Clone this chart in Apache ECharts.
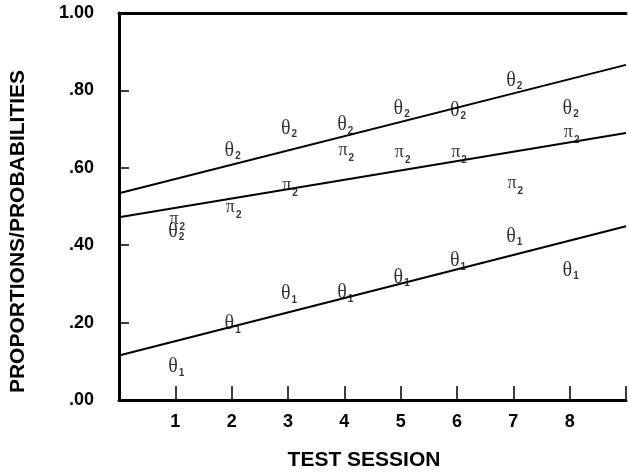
<!DOCTYPE html>
<html>
<head>
<meta charset="utf-8">
<script src="https://cdn.jsdelivr.net/npm/echarts@6/dist/echarts.min.js"></script>
<style>html,body{margin:0;padding:0;background:#fff;}#c{width:629px;height:476px;}</style>
</head>
<body>
<div id="c"></div>
<script>
// Test sessions
const sessions = [1, 2, 3, 4, 5, 6, 7, 8];
// Observed proportions (plotted as letter symbols)
const theta2 = [0.436, 0.645, 0.702, 0.710, 0.753, 0.748, 0.826, 0.753];
const pi2    = [0.468, 0.498, 0.555, 0.645, 0.640, 0.640, 0.560, 0.692];
const theta1 = [0.085, 0.196, 0.274, 0.276, 0.317, 0.359, 0.423, 0.335];
// Fitted lines: [session, value] at the ends of the axis
const theta2Fit = [[0, 0.534], [9, 0.866]];
const pi2Fit    = [[0, 0.472], [9, 0.690]];
const theta1Fit = [[0, 0.115], [9, 0.449]];
// Tick labels
const yTicks = [0, 0.2, 0.4, 0.6, 0.8, 1.0];

const chart = echarts.init(document.getElementById('c'), null, {renderer: 'canvas'});

function symSeries(name, vals, sym, sub, symSize, subPad, offX) {
  return {
    type: 'scatter', name: name,
    data: sessions.map((s, i) => [s, vals[i]]),
    symbolSize: 1, itemStyle: {color: 'rgba(0,0,0,0)'},
    z: 5,
    label: {
      show: true, position: 'inside', offset: [offX, 0],
      formatter: '{t|' + sym + '}{s|' + sub + '}',
      rich: {
        t: {fontFamily: 'Liberation Serif', fontSize: symSize, color: '#000', lineHeight: symSize, verticalAlign: 'top'},
        s: {fontFamily: 'Liberation Sans', fontWeight: 'bold', fontSize: 10, color: '#000', lineHeight: 10, verticalAlign: 'top', padding: [subPad, 0, 0, 1]}
      }
    }
  };
}
function lineSeries(name, d) {
  return {
    type: 'line', name: name, data: d, symbol: 'none', z: 3,
    lineStyle: {color: '#000', width: 2}, silent: true
  };
}

const labelFont = {fontFamily: 'Liberation Sans', fontWeight: 'bold', fontSize: 18, color: '#000'};

chart.setOption({
  animation: false,
  backgroundColor: '#fff',
  grid: {left: 119, right: 0, top: 13, bottom: 76, containLabel: false},
  xAxis: [{
    type: 'value', min: 0, max: 9, interval: 1,
    axisLine: {show: true, lineStyle: {color: '#000', width: 3}},
    axisTick: {show: true, inside: true, length: 14, lineStyle: {color: '#000', width: 1.5}},
    splitLine: {show: false},
    axisLabel: Object.assign({margin: 13, formatter: v => (v >= 1 && v <= 8) ? String(v) : ''}, labelFont)
  }, {
    type: 'value', min: 0, max: 9, position: 'top',
    axisLine: {show: true, onZero: false, lineStyle: {color: '#000', width: 3}},
    axisTick: {show: false}, axisLabel: {show: false}, splitLine: {show: false}
  }],
  yAxis: {
    type: 'value', min: 0, max: 1, interval: 0.2,
    axisLine: {show: true, lineStyle: {color: '#000', width: 3}},
    axisTick: {show: true, inside: true, length: 10, lineStyle: {color: '#000', width: 1.5}},
    splitLine: {show: false},
    axisLabel: Object.assign({margin: 25, padding: [4, 0, 0, 0], formatter: v => {
      const s = v.toFixed(2); return s.startsWith('0') ? s.slice(1) : s;
    }}, labelFont)
  },
  graphic: [
    {type: 'text', x: 364, y: 460, style: {text: 'TEST SESSION', x: 0, y: 0, align: 'center', verticalAlign: 'middle',
      fontFamily: 'Liberation Sans', fontWeight: 'bold', fontSize: 21, fill: '#000'}},
    {type: 'text', rotation: Math.PI / 2, x: 18, y: 231.5,
      style: {text: 'PROPORTIONS/PROBABILITIES', x: 0, y: 0, align: 'center', verticalAlign: 'middle',
      fontFamily: 'Liberation Sans', fontWeight: 'bold', fontSize: 21, fill: '#000'}}
  ],
  series: [
    lineSeries('θ2 fit', theta2Fit),
    lineSeries('π2 fit', pi2Fit),
    lineSeries('θ1 fit', theta1Fit),
    symSeries('θ2', theta2, 'θ', '2', 20, 11, 1),
    symSeries('π2', pi2, 'π', '2', 18, 12, 2),
    symSeries('θ1', theta1, 'θ', '1', 20, 11, 1)
  ]
});
</script>
</body>
</html>
